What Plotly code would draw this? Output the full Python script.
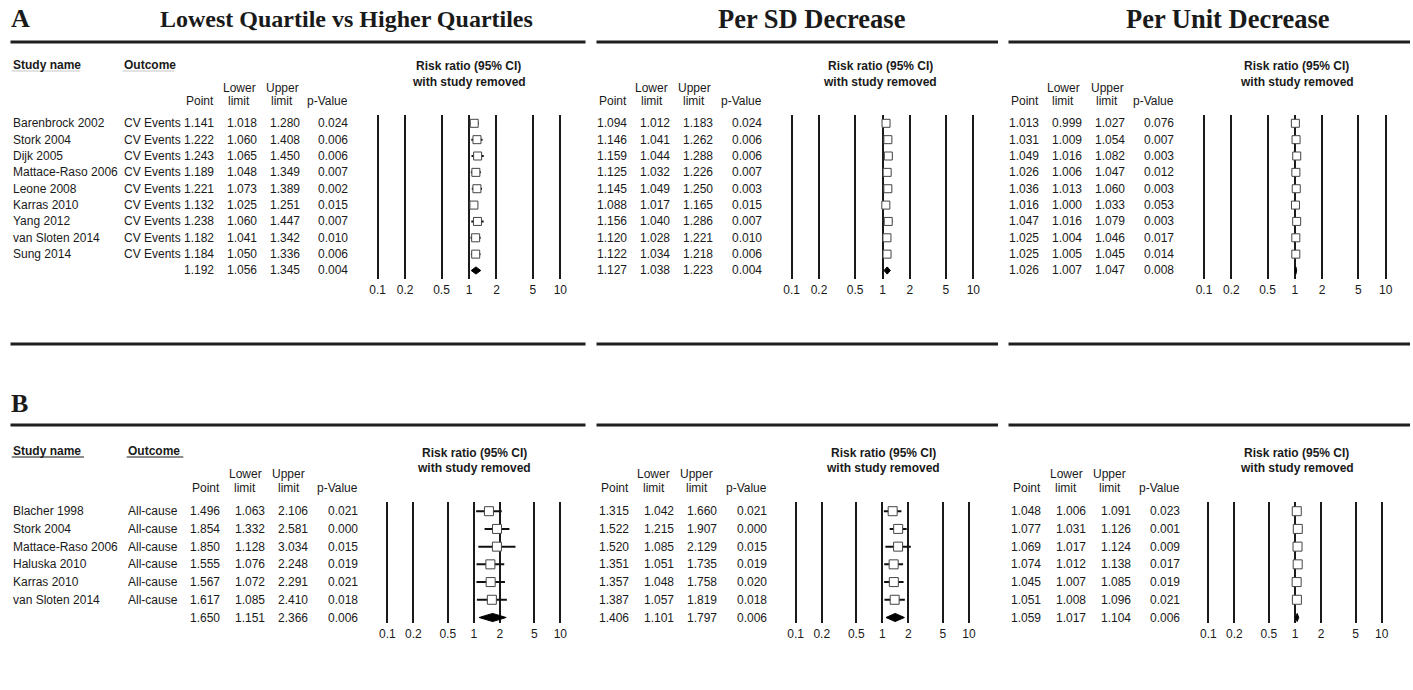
import plotly.graph_objects as go

# ---------------- DATA ----------------
a_studies = ["Barenbrock 2002", "Stork 2004", "Dijk 2005", "Mattace-Raso 2006", "Leone 2008",
             "Karras 2010", "Yang 2012", "van Sloten 2014", "Sung 2014"]
a_outcome = ["CV Events"] * 9

a_q_point = [1.141, 1.222, 1.243, 1.189, 1.221, 1.132, 1.238, 1.182, 1.184, 1.192]
a_q_lower = [1.018, 1.060, 1.065, 1.048, 1.073, 1.025, 1.060, 1.041, 1.050, 1.056]
a_q_upper = [1.280, 1.408, 1.450, 1.349, 1.389, 1.251, 1.447, 1.342, 1.336, 1.345]
a_q_p = [0.024, 0.006, 0.006, 0.007, 0.002, 0.015, 0.007, 0.010, 0.006, 0.004]

a_sd_point = [1.094, 1.146, 1.159, 1.125, 1.145, 1.088, 1.156, 1.120, 1.122, 1.127]
a_sd_lower = [1.012, 1.041, 1.044, 1.032, 1.049, 1.017, 1.040, 1.028, 1.034, 1.038]
a_sd_upper = [1.183, 1.262, 1.288, 1.226, 1.250, 1.165, 1.286, 1.221, 1.218, 1.223]
a_sd_p = [0.024, 0.006, 0.006, 0.007, 0.003, 0.015, 0.007, 0.010, 0.006, 0.004]

a_u_point = [1.013, 1.031, 1.049, 1.026, 1.036, 1.016, 1.047, 1.025, 1.025, 1.026]
a_u_lower = [0.999, 1.009, 1.016, 1.006, 1.013, 1.000, 1.016, 1.004, 1.005, 1.007]
a_u_upper = [1.027, 1.054, 1.082, 1.047, 1.060, 1.033, 1.079, 1.046, 1.045, 1.047]
a_u_p = [0.076, 0.007, 0.003, 0.012, 0.003, 0.053, 0.003, 0.017, 0.014, 0.008]

b_studies = ["Blacher 1998", "Stork 2004", "Mattace-Raso 2006", "Haluska 2010", "Karras 2010",
             "van Sloten 2014"]
b_outcome = ["All-cause"] * 6

b_q_point = [1.496, 1.854, 1.850, 1.555, 1.567, 1.617, 1.650]
b_q_lower = [1.063, 1.332, 1.128, 1.076, 1.072, 1.085, 1.151]
b_q_upper = [2.106, 2.581, 3.034, 2.248, 2.291, 2.410, 2.366]
b_q_p = [0.021, 0.000, 0.015, 0.019, 0.021, 0.018, 0.006]

b_sd_point = [1.315, 1.522, 1.520, 1.351, 1.357, 1.387, 1.406]
b_sd_lower = [1.042, 1.215, 1.085, 1.051, 1.048, 1.057, 1.101]
b_sd_upper = [1.660, 1.907, 2.129, 1.735, 1.758, 1.819, 1.797]
b_sd_p = [0.021, 0.000, 0.015, 0.019, 0.020, 0.018, 0.006]

b_u_point = [1.048, 1.077, 1.069, 1.074, 1.045, 1.051, 1.059]
b_u_lower = [1.006, 1.031, 1.017, 1.012, 1.007, 1.008, 1.017]
b_u_upper = [1.091, 1.126, 1.124, 1.138, 1.085, 1.096, 1.104]
b_u_p = [0.023, 0.001, 0.009, 0.017, 0.019, 0.021, 0.006]

tick_vals = [0.1, 0.2, 0.5, 1, 2, 5, 10]
tick_text = ["0.1", "0.2", "0.5", "1", "2", "5", "10"]

section_titles = ["Lowest Quartile vs Higher Quartiles", "Per SD Decrease", "Per Unit Decrease"]
panel_letters = ["A", "B"]

# ---------------- LAYOUT HELPERS ----------------
W, H = 1413, 690
def px(x): return x / W
def py(y): return 1 - y / H

FONT = "Liberation Sans, Arial, sans-serif"
SERIF = "Liberation Serif, Times New Roman, serif"
TXT = "#1a1a1a"

fig = go.Figure()
annotations = []
shapes = []

def text(x, y, s, anchor="left", size=12, bold=False, family=FONT):
    annotations.append(dict(
        x=px(x), y=py(y), xref="paper", yref="paper", text=("<b>%s</b>" % s) if bold else s,
        showarrow=False, xanchor=anchor, yanchor="middle", borderpad=0,
        font=dict(family=family, size=size, color=TXT)))

def hline(x0, x1, y, color="#1f1f1f", width=3):
    shapes.append(dict(type="line", xref="paper", yref="paper", x0=px(x0), x1=px(x1),
                       y0=py(y), y1=py(y), line=dict(color=color, width=width)))

panels = [
    # section A
    dict(k=1, point=a_q_point, lower=a_q_lower, upper=a_q_upper, p=a_q_p,
         cols=(215, 258, 301, 349), hdr=(239, 282), x01=377.7, x10=560.3, rr=468.5),
    dict(k=2, point=a_sd_point, lower=a_sd_lower, upper=a_sd_upper, p=a_sd_p,
         cols=(628.3, 671, 714, 762.7), hdr=(651.7, 694.3), x01=791.7, x10=973.3, rr=880),
    dict(k=3, point=a_u_point, lower=a_u_lower, upper=a_u_upper, p=a_u_p,
         cols=(1040, 1083.3, 1126, 1175), hdr=(1063.3, 1107), x01=1204, x10=1385.7, rr=1296.7),
    # section B
    dict(k=4, point=b_q_point, lower=b_q_lower, upper=b_q_upper, p=b_q_p,
         cols=(221, 265.7, 309.3, 359), hdr=(245, 288.8), x01=387.3, x10=560.3, rr=474),
    dict(k=5, point=b_sd_point, lower=b_sd_lower, upper=b_sd_upper, p=b_sd_p,
         cols=(630, 674.7, 718.3, 768.3), hdr=(653.7, 696.7), x01=795.7, x10=969, rr=883.3),
    dict(k=6, point=b_u_point, lower=b_u_lower, upper=b_u_upper, p=b_u_p,
         cols=(1042.3, 1086.7, 1131.7, 1180.7), hdr=(1066.3, 1109.7), x01=1208.3, x10=1381.7, rr=1296.7),
]

sections = [
    dict(row0=123.3, rowN=270.5, top=115, bottom=279, hdr1=88.3, hdr2=101, rr1=65.5, rr2=82.5,
         sn_y=65, sn_x=11.7, oc_x=122.7, studies=a_studies, outcome=a_outcome, msize=8, dh=0.22),
    dict(row0=511.2, rowN=617.5, top=501.7, bottom=623.3, hdr1=474, hdr2=488.5, rr1=452.8, rr2=467.7,
         sn_y=451, sn_x=11.7, oc_x=126.7, studies=b_studies, outcome=b_outcome, msize=9, dh=0.23),
]

layout_axes = {}
PAD = 0.02  # decades of padding on each side so edge grid lines are drawn

for pn in panels:
    sec = sections[0] if pn["k"] <= 3 else sections[1]
    k = pn["k"]
    n = len(pn["point"])
    step = (sec["rowN"] - sec["row0"]) / (n - 1)
    rows = list(range(n))

    # table text
    for i in range(n):
        y = sec["row0"] + i * step
        if i < n - 1 and k in (1, 4):
            text(sec["sn_x"], y, sec["studies"][i])
            text(sec["oc_x"], y, sec["outcome"][i])
        c = pn["cols"]
        text(c[0], y, "%.3f" % pn["point"][i], "right")
        text(c[1], y, "%.3f" % pn["lower"][i], "right")
        text(c[2], y, "%.3f" % pn["upper"][i], "right")
        text(c[3], y, "%.3f" % pn["p"][i], "right")
    # headers
    c = pn["cols"]
    text(pn["hdr"][0], sec["hdr1"], "Lower", "center")
    text(pn["hdr"][1], sec["hdr1"], "Upper", "center")
    text(c[0], sec["hdr2"], "Point", "right")
    text(pn["hdr"][0], sec["hdr2"], "limit", "center")
    text(pn["hdr"][1], sec["hdr2"], "limit", "center")
    text(c[3], sec["hdr2"], "p-Value", "right")
    text(pn["rr"], sec["rr1"], "Risk ratio (95% CI)", "center", bold=True)
    text(pn["rr"], sec["rr2"], "with study removed", "center", bold=True)

    # axes
    dec = (pn["x10"] - pn["x01"]) / 2.0
    d0 = pn["x01"] - PAD * dec
    d1 = pn["x10"] + PAD * dec
    tpad = (sec["row0"] - sec["top"]) / step
    bpad = (sec["bottom"] - sec["rowN"]) / step
    xa = "xaxis" if k == 1 else "xaxis%d" % k
    ya = "yaxis" if k == 1 else "yaxis%d" % k
    layout_axes[xa] = dict(
        type="log", range=[-1 - PAD, 1 + PAD], domain=[px(d0), px(d1)], anchor="y" if k == 1 else "y%d" % k,
        tickmode="array", tickvals=tick_vals, ticktext=tick_text, ticks="", showline=False, zeroline=False,
        showgrid=True, gridcolor="#1a1a1a", gridwidth=1.8, fixedrange=True, ticklabelstandoff=2,
        automargin=False, tickfont=dict(family=FONT, size=12, color=TXT))
    layout_axes[ya] = dict(
        domain=[py(sec["bottom"]), py(sec["top"])], range=[n - 1 + bpad, -tpad], automargin=False,
        anchor="x" if k == 1 else "x%d" % k, visible=False, showgrid=False, zeroline=False, fixedrange=True)

    xr = "x" if k == 1 else "x%d" % k
    yr = "y" if k == 1 else "y%d" % k
    # CI lines
    lx, ly = [], []
    for i in range(n - 1):
        lx += [pn["lower"][i], pn["upper"][i], None]
        ly += [i, i, None]
    fig.add_trace(go.Scatter(x=lx, y=ly, mode="lines", line=dict(color="#111111", width=2),
                             xaxis=xr, yaxis=yr, hoverinfo="skip", showlegend=False))
    # point boxes
    fig.add_trace(go.Scatter(x=pn["point"][:-1], y=rows[:-1], mode="markers",
                             marker=dict(symbol="square", size=sec["msize"], color="white",
                                         line=dict(color="#444444", width=1)),
                             xaxis=xr, yaxis=yr, showlegend=False))
    # summary diamond
    j = n - 1
    h = sec["dh"]
    fig.add_trace(go.Scatter(
        x=[pn["lower"][j], pn["point"][j], pn["upper"][j], pn["point"][j], pn["lower"][j]],
        y=[j, j - h, j, j + h, j], mode="lines", fill="toself", fillcolor="#000000",
        line=dict(color="#000000", width=1), xaxis=xr, yaxis=yr, showlegend=False))

# study name / outcome headers
for si, sec in enumerate(sections):
    text(sec["sn_x"], sec["sn_y"], "Study name", bold=True)
    text(sec["oc_x"], sec["sn_y"], "Outcome", bold=True)

# underlines
shapes.append(dict(type="line", xref="paper", yref="paper", x0=px(11.7), x1=px(80), y0=py(71), y1=py(71),
                   line=dict(color="#d8d8d8", width=1.5)))
shapes.append(dict(type="line", xref="paper", yref="paper", x0=px(122.7), x1=px(174.3), y0=py(71), y1=py(71),
                   line=dict(color="#d8d8d8", width=1.5)))
shapes.append(dict(type="line", xref="paper", yref="paper", x0=px(11.7), x1=px(84), y0=py(457), y1=py(457),
                   line=dict(color="#1a1a1a", width=1.2)))
shapes.append(dict(type="line", xref="paper", yref="paper", x0=px(126.7), x1=px(183.3), y0=py(457), y1=py(457),
                   line=dict(color="#1a1a1a", width=1.2)))

# section rules
for y in (42, 344, 425):
    hline(10.5, 585.5, y)
    hline(596.5, 998, y)
    hline(1008.5, 1410, y)

# titles
text(10, 19, panel_letters[0], "left", size=26, bold=True, family=SERIF)
text(10, 403, panel_letters[1], "left", size=26, bold=True, family=SERIF)
for cx, t, fs in zip((346, 812, 1228), section_titles, (24, 26.5, 26.5)):
    text(cx, 19, t, "center", size=fs, bold=True, family=SERIF)

fig.update_layout(
    width=W, height=H, margin=dict(l=0, r=0, t=0, b=0, pad=0, autoexpand=False),
    paper_bgcolor="white", plot_bgcolor="white",
    annotations=annotations, shapes=shapes, showlegend=False,
    **layout_axes)

fig.write_html("out.html", config={"displayModeBar": False},
               post_script="document.body.style.margin='0';document.body.style.overflow='hidden';")
